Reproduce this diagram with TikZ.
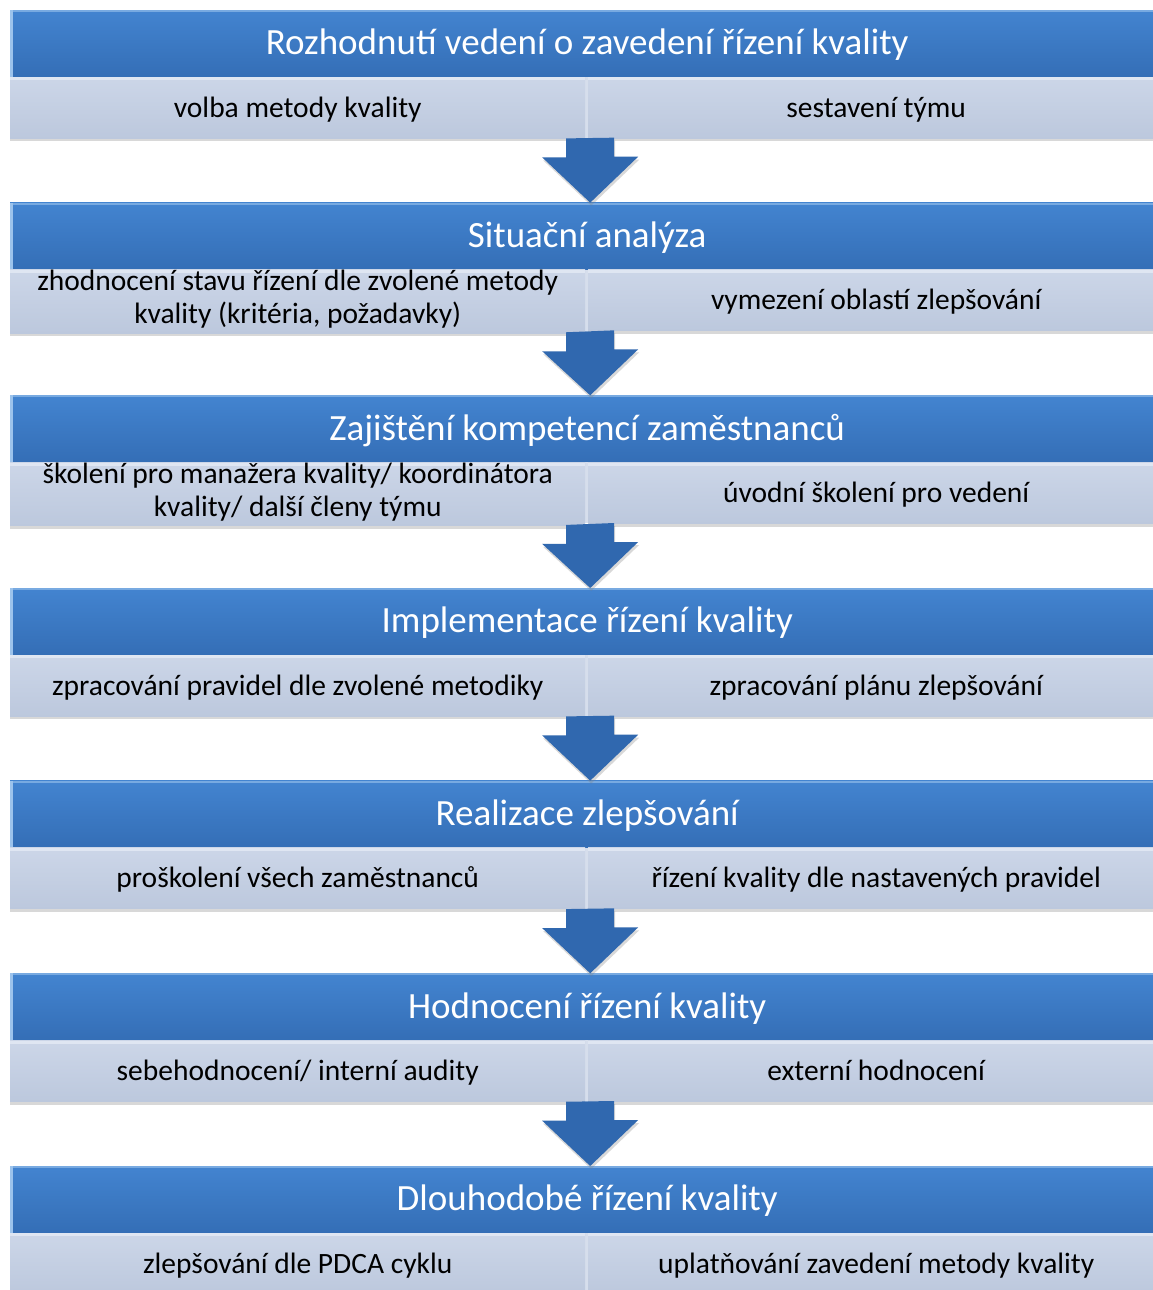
\documentclass[tikz,border=0pt]{standalone}
\usepackage{fontspec}
\setmainfont{Carlito}
\usetikzlibrary{shadows,calc}

\definecolor{hdtop}{HTML}{4384D0}
\definecolor{hdbot}{HTML}{346EB6}
\definecolor{hdedge}{HTML}{9CC3EC}
\definecolor{subtop}{HTML}{CCD6E8}
\definecolor{subbot}{HTML}{BCC8DD}
\definecolor{subedge}{HTML}{DFE6F2}
\definecolor{gapcol}{HTML}{D6DEEC}
\definecolor{arrowblue}{HTML}{3068AF}

\tikzset{
  header/.style={anchor=north west, minimum width=1154pt, minimum height=67pt,
    inner sep=0pt, top color=hdtop, bottom color=hdbot, text=white,
    font=\fontsize{37}{42}\selectfont,
    execute at begin node={\rule{0pt}{35pt}}, execute at end node=\strut},
  cell/.style={anchor=north west, minimum width=575pt, minimum height=61pt,
    inner sep=0pt, top color=subtop, bottom color=subbot, align=center,
    font=\fontsize{29.5}{33}\selectfont,
    execute at begin node={\rule{0pt}{29pt}}, execute at end node=\strut,
    path picture={\fill[subedge] (path picture bounding box.north west)
      rectangle ($(path picture bounding box.north east)+(0,3)$);},
    drop shadow={shadow xshift=0pt, shadow yshift=-3pt, opacity=.3}},
  flowarrow/.style={fill=arrowblue,
    drop shadow={shadow xshift=1pt, shadow yshift=-3pt, opacity=.3}},
}

% one stage: index, top y, title, left item, right item
\newcommand\stagerow[5]{%
  \node[header] (H#1) at (10,#2) {#3};
  \fill[hdedge] (H#1.north west) rectangle ($(H#1.south west)+(3,0)$);
  \fill[hdedge!60!hdtop] ($(H#1.north west)+(3,0)$) rectangle ($(H#1.north east)+(0,2)$);
  \fill[gapcol] (584,#2+67) rectangle (590,#2+128);
  \node[cell] (L#1) at (10,#2+67) {#4};
  \node[cell, minimum width=576pt] (R#1) at (588,#2+67) {#5};
}

% block arrow from the bottom of stage #1 down to the header of stage #2
\newcommand\flowdown[2]{%
  \coordinate (A#1) at ($(L#1.south west)!0.5!(R#1.south east)+(3,0)$);
  \path[flowarrow] (A#1) ++(-24,0) -- ++(0,19) -- ++(-24,0)
     -- (A#1 |- H#2.north) -- ($(A#1 |- H#2.north)+(48,-46)$)
     -- ++(-24,0) -- ++(0,-19) -- cycle;
}

\begin{document}
\begin{tikzpicture}[x=1pt,y=-1pt]
\useasboundingbox[fill=white] (0,0) rectangle (1152,1290);

\stagerow{1}{10}{Rozhodnutí vedení o zavedení řízení kvality}{volba metody kvality}{sestavení týmu}
\stagerow{2}{202.67}{Situační analýza}{zhodnocení stavu řízení dle zvolené metody\\kvality (kritéria, požadavky)}{vymezení oblastí zlepšování}
\stagerow{3}{395.33}{Zajištění kompetencí zaměstnanců}{školení pro manažera kvality/ koordinátora\\kvality/ další členy týmu}{úvodní školení pro vedení}
\stagerow{4}{588}{Implementace řízení kvality}{zpracování pravidel dle zvolené metodiky}{zpracování plánu zlepšování}
\stagerow{5}{780.67}{Realizace zlepšování}{proškolení všech zaměstnanců}{řízení kvality dle nastavených pravidel}
\stagerow{6}{973.33}{Hodnocení řízení kvality}{sebehodnocení/ interní audity}{externí hodnocení}
\stagerow{7}{1166}{Dlouhodobé řízení kvality}{zlepšování dle PDCA cyklu}{uplatňování zavedení metody kvality}

\flowdown{1}{2}
\flowdown{2}{3}
\flowdown{3}{4}
\flowdown{4}{5}
\flowdown{5}{6}
\flowdown{6}{7}
\end{tikzpicture}
\end{document}
